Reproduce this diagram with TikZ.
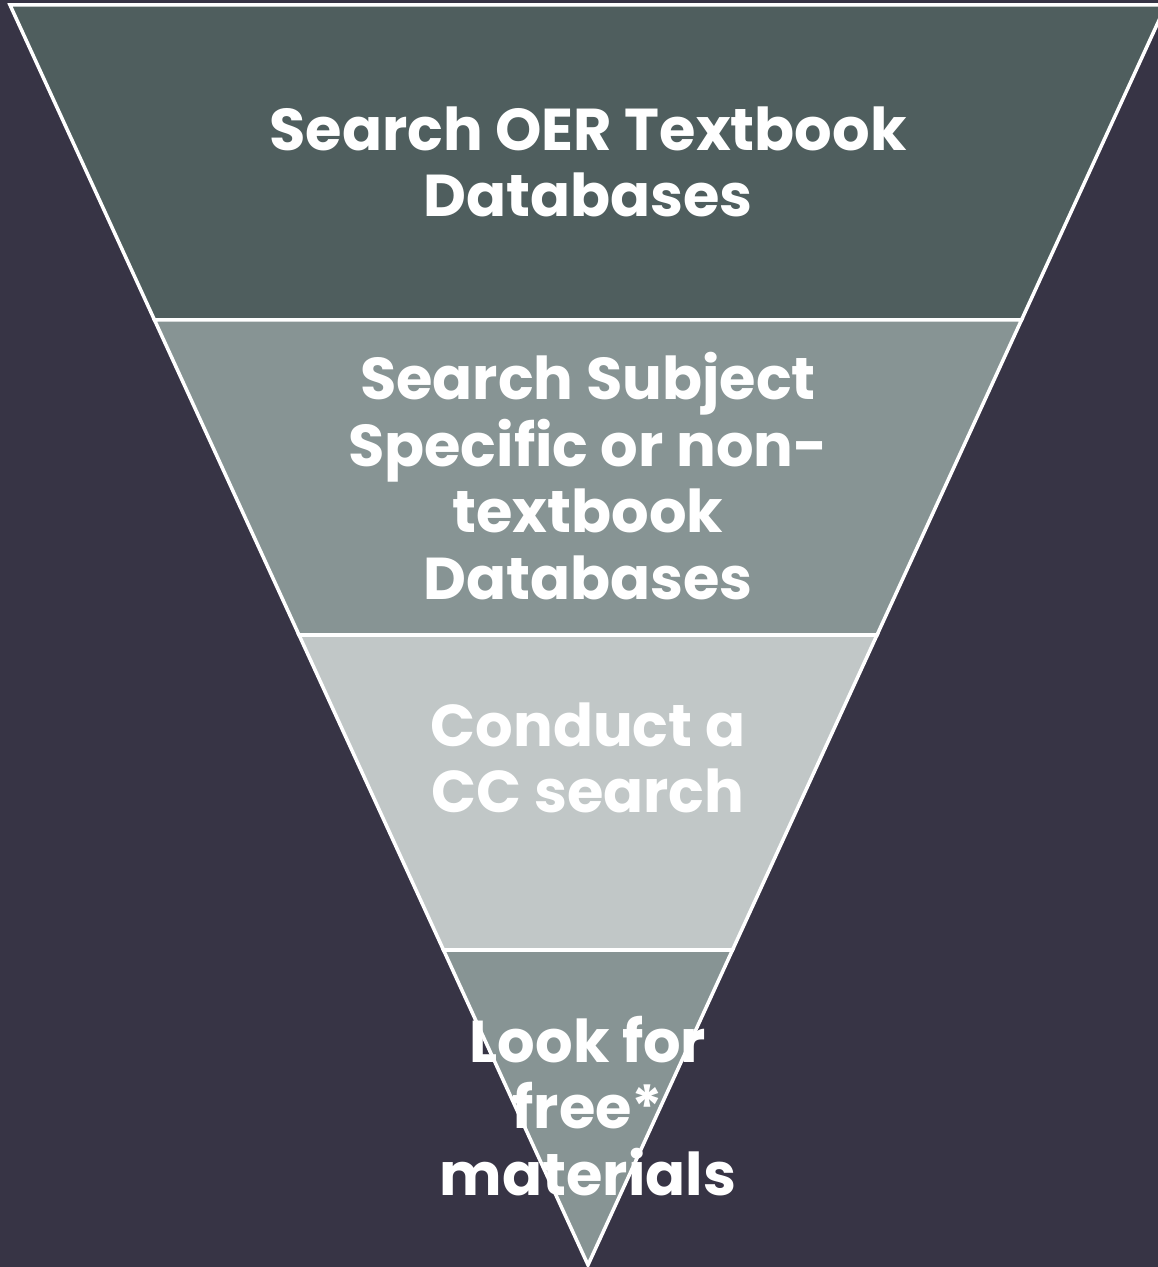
\documentclass[tikz,border=0pt]{standalone}
\usepackage{fontspec}
\setmainfont{Poppins}
\usetikzlibrary{calc}
\definecolor{night}{HTML}{373445}
\definecolor{slateA}{HTML}{4F5E5E}
\definecolor{slateB}{HTML}{879494}
\definecolor{slateC}{HTML}{C1C7C7}
\tikzset{
  band/.style={draw=white, line width=1pt, line join=miter},
  lbl/.style={text=white, font=\fontsize{16.8}{19}\selectfont\bfseries, align=center, inner sep=0pt}
}
\begin{document}
\begin{tikzpicture}

% Background and page size
\fill[night] (0,0) rectangle (11.58,12.67);
\useasboundingbox (0,0) rectangle (11.58,12.67);
\clip (0,0) rectangle (11.58,12.67);

% Corners of the funnel
\coordinate (TL) at (0.10,12.62);
\coordinate (TR) at (11.66,12.62);
\coordinate (P) at (5.88,0.02);

% Draw the four bands
\foreach \a/\b/\c in {0/0.25/slateA, 0.25/0.5/slateB, 0.5/0.75/slateC, 0.75/1/slateB} {
  \filldraw[band, fill=\c] ($(TL)!\a!(P)$) -- ($(TR)!\a!(P)$) -- ($(TR)!\b!(P)$) -- ($(TL)!\b!(P)$) -- cycle;
}

% Texts of the bands
\node[lbl] (oer) at (5.88,11.05) {Search OER Textbook\\Databases};
\node[lbl] (subj) at (5.88,7.91) {Search Subject\\Specific or non-\\textbook\\Databases};
\node[lbl] (cc) at (5.88,5.09) {Conduct a\\CC search};
\node[lbl] (free) at (5.88,1.61) {Look for\\free*\\materials};

\end{tikzpicture}
\end{document}
